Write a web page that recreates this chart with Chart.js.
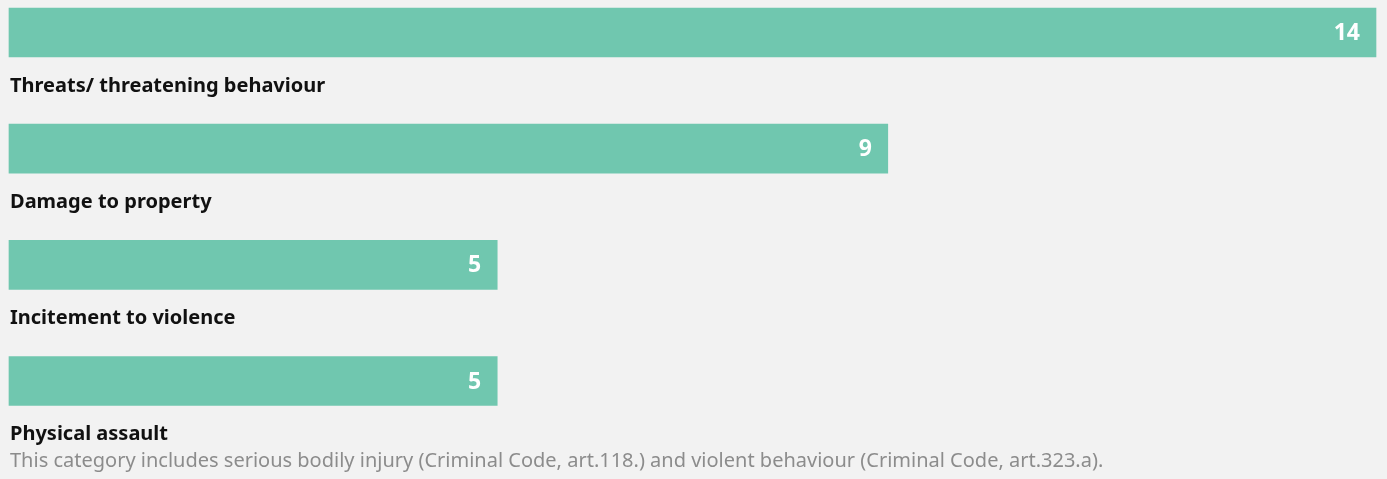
<!DOCTYPE html>
<html>
<head>
<meta charset="utf-8">
<script src="https://cdn.jsdelivr.net/npm/chart.js@4.4.1/dist/chart.umd.min.js"></script>
<style>
	html, body { margin: 0; padding: 0; background: #f2f2f2; }
	#wrap { position: relative; width: 1387px; height: 479px; }
	#note {
		position: absolute; left: 10px; top: 445px;
		font-family: "Noto Sans", sans-serif; font-size: 20px; line-height: 30px; color: #8c8c8c;
		white-space: nowrap;
	}
</style>
</head>
<body>
<div id="wrap">
	<canvas id="myChart" width="1387" height="479"></canvas>
	<div id="note">This category includes serious bodily injury (Criminal Code, art.118.) and violent behaviour (Criminal Code, art.323.a).</div>
</div>
<script>
var categories = ['Threats/ threatening behaviour', 'Damage to property', 'Incitement to violence', 'Physical assault'];
var counts = [14, 9, 5, 5];

// labels under each bar + value inside the bar end
var barTextPlugin = {
	id: 'barText',
	afterDatasetsDraw: function(chart) {
		var ctx = chart.ctx;
		var meta = chart.getDatasetMeta(0);
		ctx.save();
		meta.data.forEach(function(bar, i) {
			var h = bar.height;
			ctx.fillStyle = '#ffffff';
			ctx.font = 'bold 23px "Noto Sans"';
			ctx.textAlign = 'right';
			ctx.textBaseline = 'middle';
			ctx.fillText(counts[i], bar.x - 16, bar.y + 1);

			ctx.fillStyle = '#111111';
			ctx.font = 'bold 20px "Noto Sans"';
			ctx.textAlign = 'left';
			ctx.fillText(categories[i], 10, bar.y + h / 2 + 29);
		});
		ctx.restore();
	}
};

var myChart = new Chart(document.getElementById('myChart'), {
	type: 'bar',
	data: {
		labels: categories,
		datasets: [{
			data: counts,
			backgroundColor: '#70c7af',
			barThickness: 49,
			clip: false
		}]
	},
	options: {
		indexAxis: 'y',
		responsive: false,
		animation: false,
		layout: { padding: { left: 9, right: 11, top: 32.5, bottom: 98 } },
		plugins: { legend: { display: false }, tooltip: { enabled: false } },
		scales: {
			x: { display: false, min: 0, max: 14 },
			y: { display: false, offset: false }
		}
	},
	plugins: [barTextPlugin]
});
</script>
</body>
</html>
